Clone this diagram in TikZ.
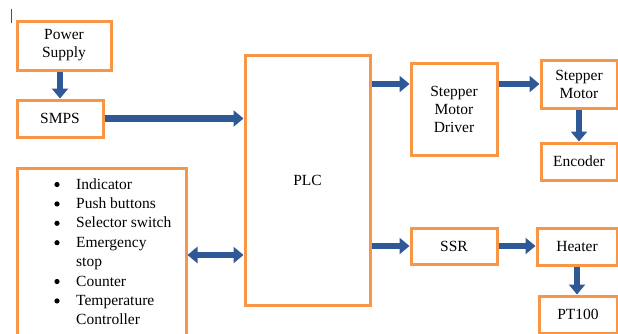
\documentclass[tikz,border=0pt]{standalone}
\usepackage{fontspec}
\setmainfont{Liberation Serif}
\usetikzlibrary{arrows.meta}
\definecolor{boxOrange}{RGB}{247,150,70}
\definecolor{arrowBlue}{RGB}{47,88,150}

\begin{document}
\begin{tikzpicture}[x=1pt,y=-1pt,
    blk/.style={draw=boxOrange, line width=3pt, fill=white, align=center,
      inner sep=0pt, font=\fontsize{15.5}{18}\selectfont},
    flow/.style={draw=arrowBlue, line width=6.5pt, -{Triangle[width=16pt,length=10pt]}},
    flowboth/.style={draw=arrowBlue, line width=6.5pt,
      {Triangle[width=16pt,length=10pt]}-{Triangle[width=16pt,length=10pt]}}]
  \useasboundingbox (0,0) rectangle (618,333);
  \def\rowgap{19.4}
  % cursor mark
  \draw[line width=0.8pt, black!70] (11,9) -- (11,23);
  % boxes
  \node[blk, minimum width=94pt, minimum height=49pt] (psu) at (64,45.5) {Power\\Supply};
  \node[blk, minimum width=86pt, minimum height=37pt] (smps) at (60,118.5) {SMPS};
  \node[blk, minimum width=125pt, minimum height=250pt] (plc) at (307.5,180) {PLC};
  \node[blk, minimum width=169pt, minimum height=184pt] (inputs) at (101.5,260) {};
  \node[blk, minimum width=86pt, minimum height=92pt] (driver) at (454,109) {Stepper\\Motor\\Driver};
  \node[blk, minimum width=76pt, minimum height=48pt] (motor) at (579,84) {Stepper\\Motor};
  \node[blk, minimum width=76pt, minimum height=37pt] (encoder) at (579,161.5) {Encoder};
  \node[blk, minimum width=86pt, minimum height=36pt] (ssr) at (454,246) {SSR};
  \node[blk, minimum width=80pt, minimum height=37pt] (heater) at (577,246.5) {Heater};
  \node[blk, minimum width=78pt, minimum height=37pt] (pt100) at (578,314.5) {PT100};
  % input list
  \foreach \txt/\bul [count=\k from 0] in {Indicator/1, Push buttons/1,
      Selector switch/1, Emergency/1, stop/0, Counter/1, Temperature/1, Controller/0} {
    \node[anchor=base west, inner sep=0pt, font=\fontsize{15.5}{18}\selectfont]
      (item\k) at (76,189+\rowgap*\k) {\txt};
    \ifnum\bul=1 \fill (57,184.5+\rowgap*\k) circle (2.6); \fi
  }
  % connectors
  \draw[flow] (smps.north |- psu.south) -- (smps.north);
  \draw[flow] (smps.east) -- (smps.east -| plc.west);
  \draw[flowboth] ([yshift=5pt]inputs.east) -- ([yshift=5pt]inputs.east -| plc.west);
  \draw[flow] (plc.east |- motor.west) -- (driver.west |- motor.west);
  \draw[flow] (driver.east |- motor.west) -- (motor.west);
  \draw[flow] (encoder.north |- motor.south) -- (encoder.north);
  \draw[flow] (plc.east |- ssr.west) -- (ssr.west);
  \draw[flow] (ssr.east) -- (ssr.east -| heater.west);
  \draw[flow] (heater.south) -- (heater.south |- pt100.north);
\end{tikzpicture}
\end{document}
